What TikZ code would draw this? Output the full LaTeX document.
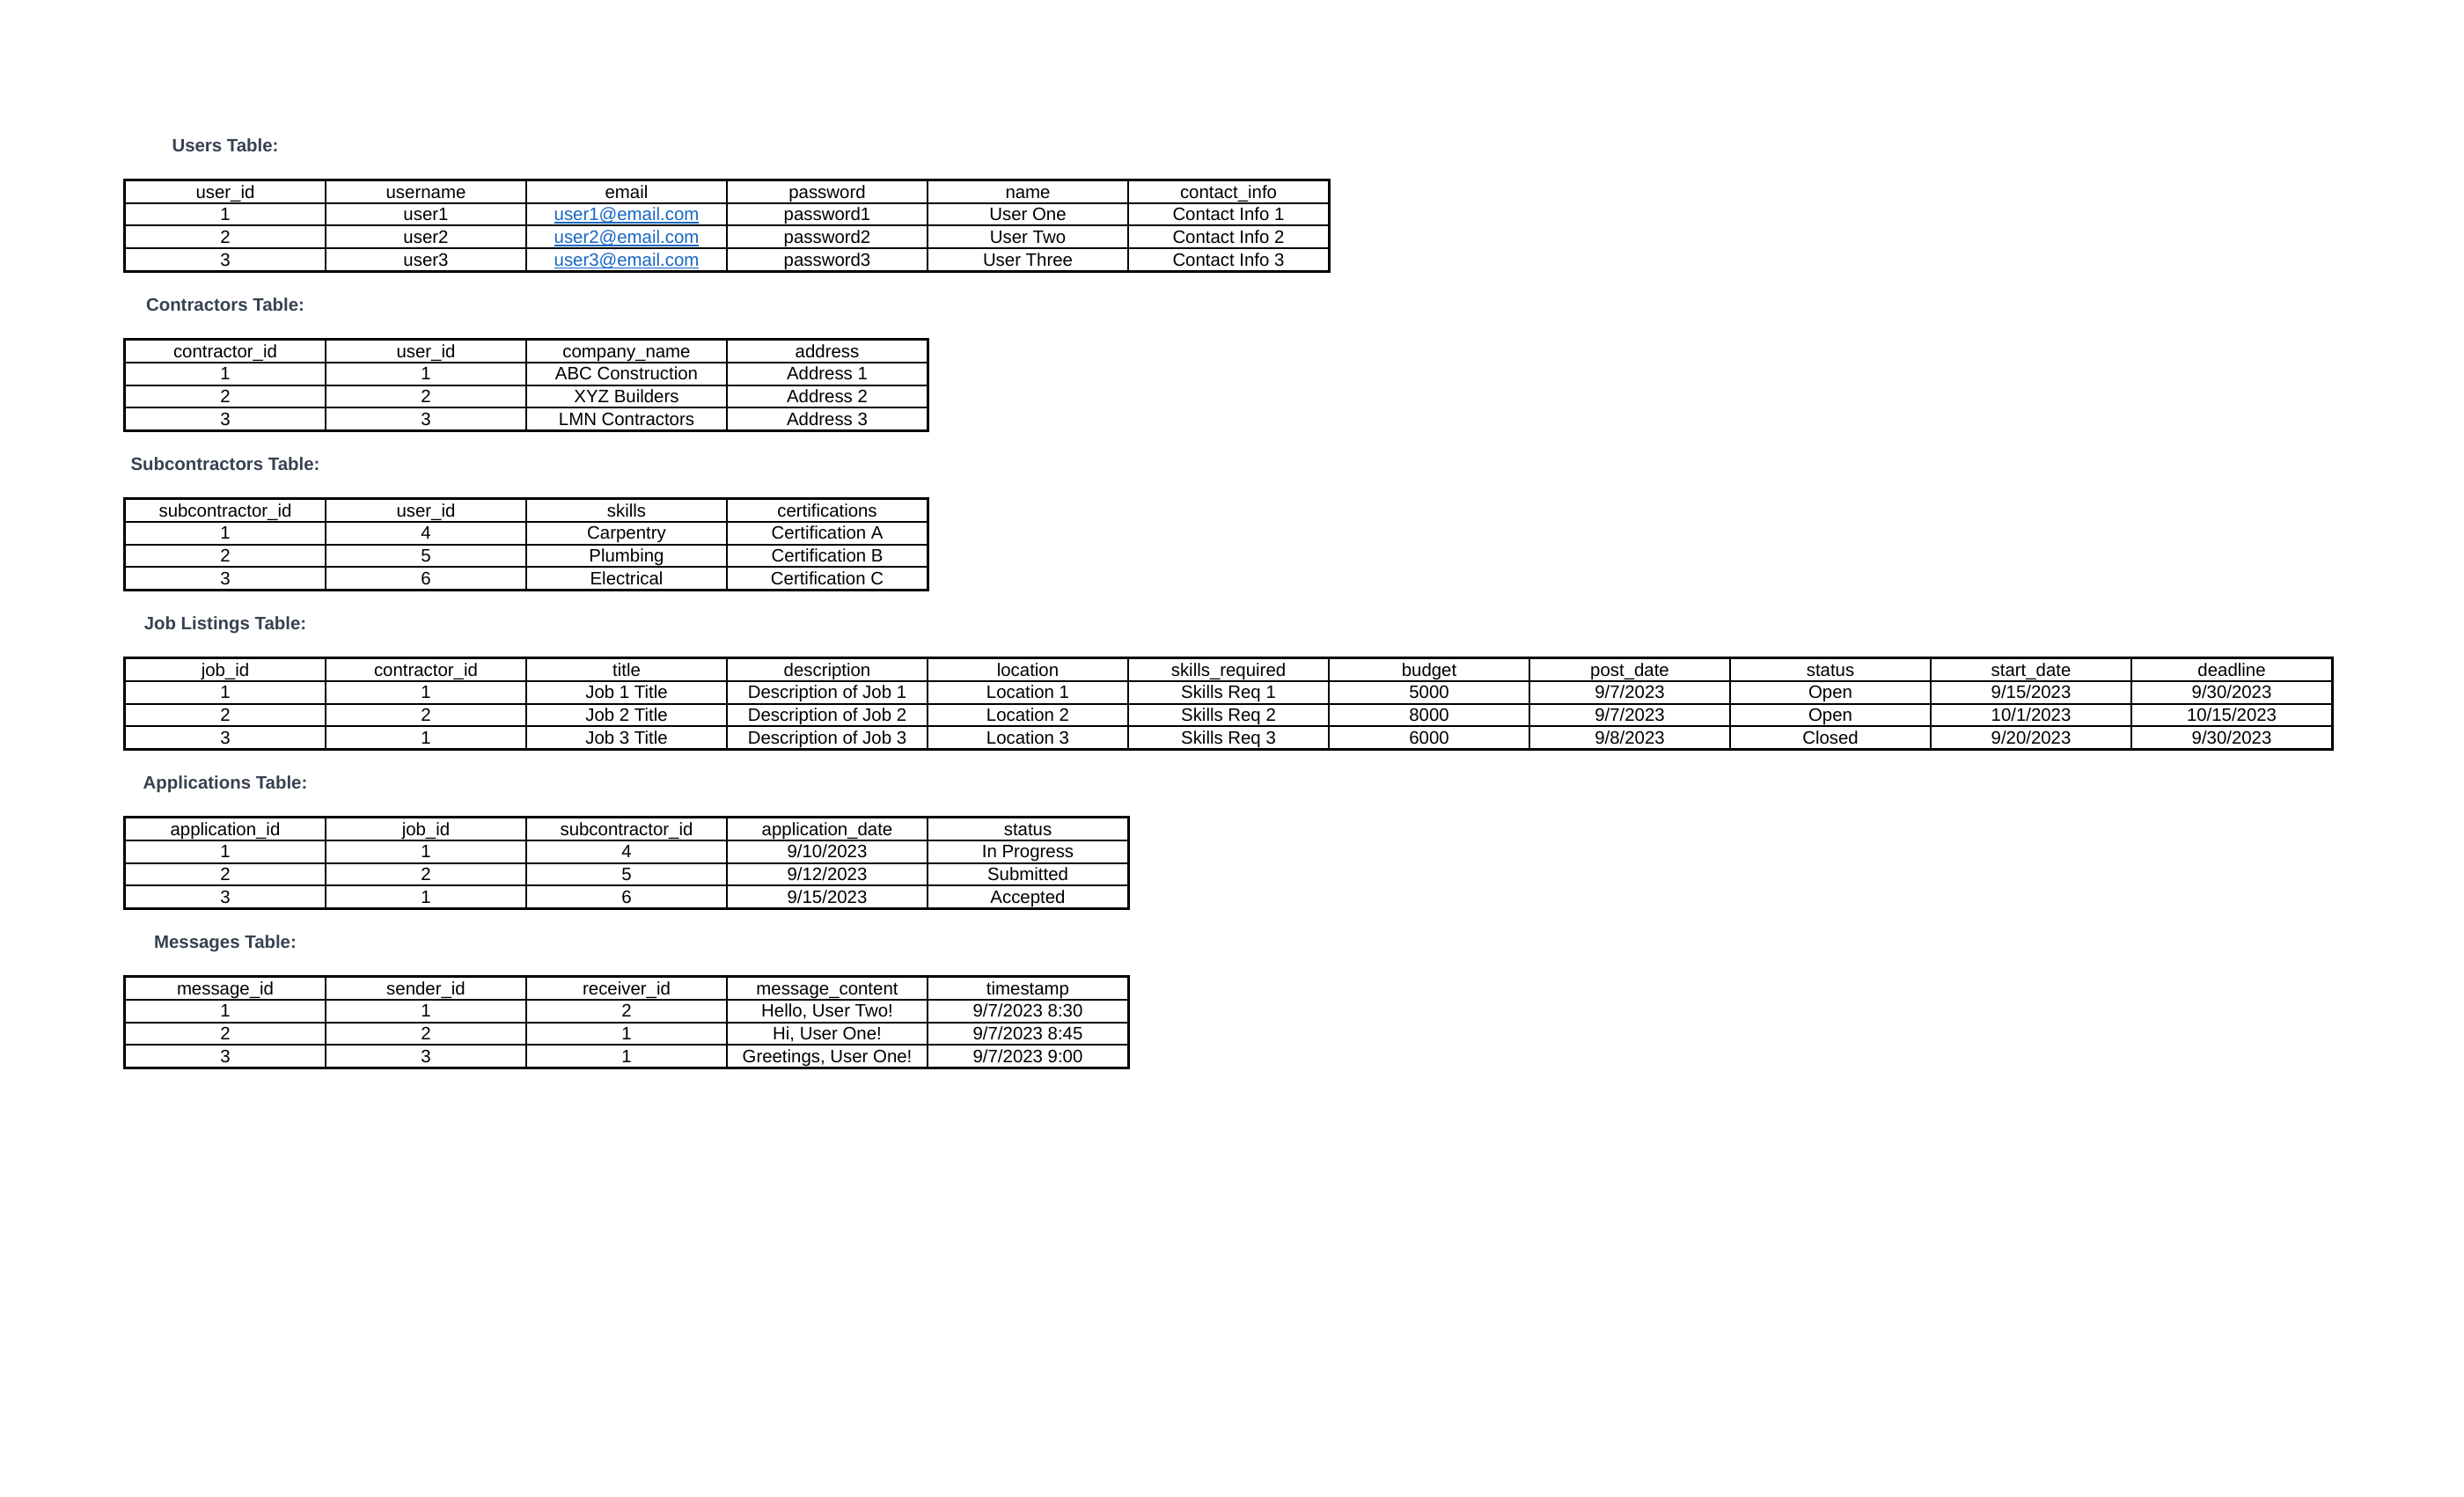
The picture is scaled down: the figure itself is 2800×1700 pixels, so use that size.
\documentclass[tikz,border=0pt]{standalone}
\usepackage{fontspec}
\setmainfont{Liberation Sans}

\definecolor{titlegray}{HTML}{374151}
\definecolor{linkblue}{HTML}{1667C6}

\newcommand\cellfont{\fontsize{5.1}{6.1}\selectfont}
\newcommand\maillink[1]{\textcolor{linkblue}{\setbox0\hbox{#1}\rlap{\rule[-0.75pt]{\wd0}{0.4pt}}\box0}}

\tikzset{
	cell/.style={draw, line width=0.5pt, anchor=north west, inner sep=0pt,
		minimum width=57pt, minimum height=6.4375pt,
		text height=3.65pt, text depth=0pt, font=\cellfont},
	tabletitle/.style={inner sep=0pt, text height=3.65pt, text depth=0pt,
		text=titlegray, font=\cellfont\bfseries},
	outline/.style={line width=0.7pt}
}

% name, title, top, last column, rows
\newcommand\dbtable[5]{%
	\node [tabletitle] (#1-title) at (256, {#3-39}) {#2};
	\foreach \row [count=\r from 0] in {#5} {
		\foreach \txt [count=\c from 0] in \row
			\node [cell] (#1-\r-\c) at ({141+228*\c}, {#3+25.75*\r}) {\txt};
	}
	\draw [outline] (#1-0-0.north west) rectangle (#1-3-#4.south east);
}

\begin{document}
\begin{tikzpicture}[x=0.25pt, y=-0.25pt]
	\fill [white] (0,0) rectangle (2800,1700);
	\useasboundingbox (0,0) rectangle (2800,1700);

	\dbtable{users}{Users Table:}{204}{5}{
		{user\_id,username,email,password,name,contact\_info},
		{1,user1,\maillink{user1@email.com},password1,User One,Contact Info 1},
		{2,user2,\maillink{user2@email.com},password2,User Two,Contact Info 2},
		{3,user3,\maillink{user3@email.com},password3,User Three,Contact Info 3}}

	\dbtable{contractors}{Contractors Table:}{385}{3}{
		{contractor\_id,user\_id,company\_name,address},
		{1,1,ABC Construction,Address 1},
		{2,2,XYZ Builders,Address 2},
		{3,3,LMN Contractors,Address 3}}

	\dbtable{subcontractors}{Subcontractors Table:}{566}{3}{
		{subcontractor\_id,user\_id,skills,certifications},
		{1,4,Carpentry,Certification A},
		{2,5,Plumbing,Certification B},
		{3,6,Electrical,Certification C}}

	\dbtable{jobs}{Job Listings Table:}{747}{10}{
		{job\_id,contractor\_id,title,description,location,skills\_required,budget,post\_date,status,start\_date,deadline},
		{1,1,Job 1 Title,Description of Job 1,Location 1,Skills Req 1,5000,9/7/2023,Open,9/15/2023,9/30/2023},
		{2,2,Job 2 Title,Description of Job 2,Location 2,Skills Req 2,8000,9/7/2023,Open,10/1/2023,10/15/2023},
		{3,1,Job 3 Title,Description of Job 3,Location 3,Skills Req 3,6000,9/8/2023,Closed,9/20/2023,9/30/2023}}

	\dbtable{applications}{Applications Table:}{928}{4}{
		{application\_id,job\_id,subcontractor\_id,application\_date,status},
		{1,1,4,9/10/2023,In Progress},
		{2,2,5,9/12/2023,Submitted},
		{3,1,6,9/15/2023,Accepted}}

	\dbtable{messages}{Messages Table:}{1109}{4}{
		{message\_id,sender\_id,receiver\_id,message\_content,timestamp},
		{1,1,2,{Hello, User Two!},9/7/2023 8:30},
		{2,2,1,{Hi, User One!},9/7/2023 8:45},
		{3,3,1,{Greetings, User One!},9/7/2023 9:00}}

\end{tikzpicture}
\end{document}
